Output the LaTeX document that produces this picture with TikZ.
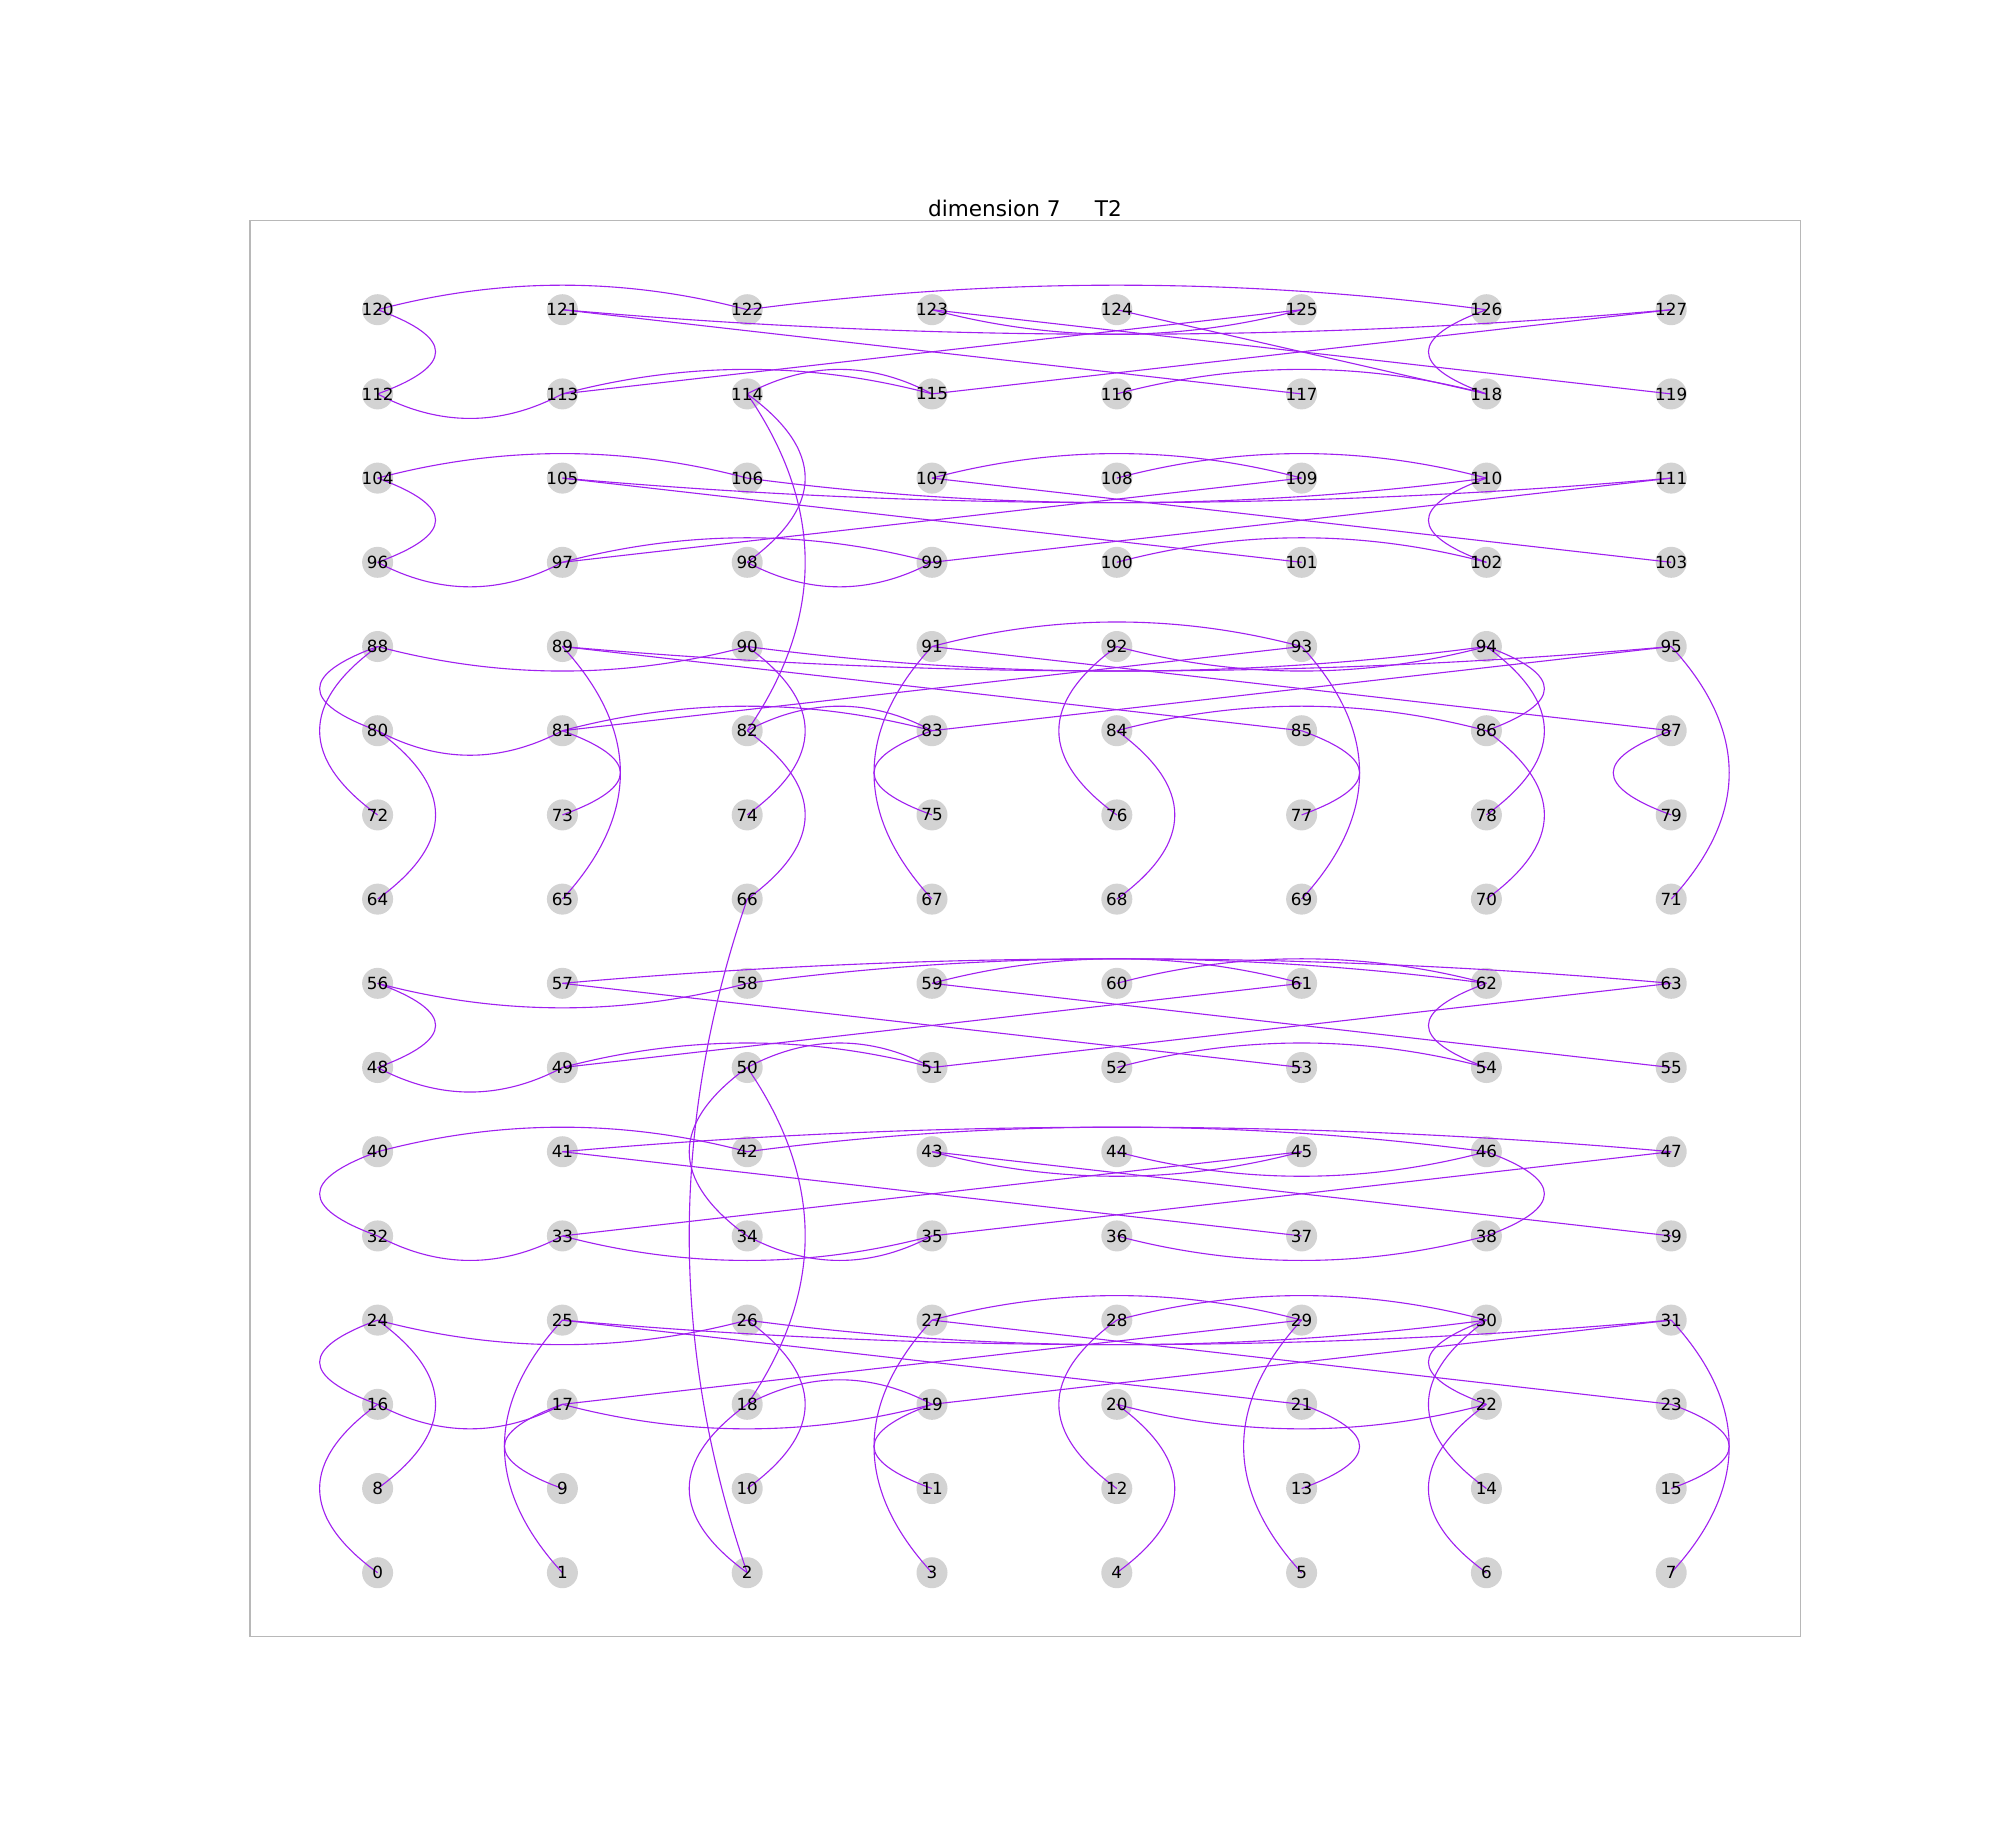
\documentclass[tikz,border=0pt]{standalone}
\usepackage{fontspec}
\newfontfamily\dejavu{DejaVu Sans}
\usetikzlibrary{calc}
\definecolor{edgec}{HTML}{A020F0}
\definecolor{nodec}{HTML}{D3D3D3}
\tikzset{
  nd/.style={circle, fill=nodec, draw=none, minimum size=7.874mm, inner sep=0pt},
  lbl/.style={font=\dejavu\fontsize{12.1}{14}\selectfont, inner sep=0pt, text=black},
  lnk/.style={draw=edgec, line width=0.8pt},
  frame/.style={draw=black!28, line width=0.75pt},
  ttl/.style={font=\dejavu\fontsize{15.6}{18}\selectfont, inner sep=0pt, anchor=base}
}
% straight edge
\newcommand\edgeS[2]{\draw[lnk] (n#1.center) -- (n#2.center);}
% same-row edge, sign +1 bulges down, -1 bulges up
\newcommand\edgeH[3]{\draw[lnk] (n#1.center) .. controls ($(n#1.center)!0.3333!(n#2.center)+(0,#3*32.7)$) and ($(n#1.center)!0.6667!(n#2.center)+(0,#3*32.7)$) .. (n#2.center);}
% same-column edge, sign +1 bulges right, -1 bulges left
\newcommand\edgeV[3]{\draw[lnk] (n#1.center) .. controls ($(n#1.center)!0.3333!(n#2.center)+(#3*77.3,0)$) and ($(n#1.center)!0.6667!(n#2.center)+(#3*77.3,0)$) .. (n#2.center);}
\begin{document}
\begin{tikzpicture}[x=0.254mm, y=-0.254mm]
\useasboundingbox (0,0) rectangle (2000,1840);
\fill[white] (0,0) rectangle (2000,1840);
\draw[frame] (250,220.7) rectangle (1800,1636.5);
\node[ttl] (title) at (1025,216.7) {dimension 7\ \ \ \ \ T2};
% nodes
\foreach \i in {0,...,127} {
  \pgfmathtruncatemacro\cc{mod(\i,8)}
  \pgfmathtruncatemacro\rr{div(\i,8)}
  \node[nd] (n\i) at ({377.6+184.8*\cc},{1572.7-84.2*\rr}) {};
}
% leaves rows 0-1
\edgeV{0}{16}{-1}\edgeV{1}{25}{-1}\edgeV{2}{18}{-1}\edgeV{3}{27}{-1}
\edgeV{4}{20}{1}\edgeV{5}{29}{-1}\edgeV{6}{22}{-1}\edgeV{7}{31}{1}
\edgeV{8}{24}{1}\edgeV{9}{17}{-1}\edgeV{10}{26}{1}\edgeV{11}{19}{-1}
\edgeV{12}{28}{-1}\edgeV{13}{21}{1}\edgeV{14}{30}{-1}\edgeV{15}{23}{1}
% leaves rows 8-9
\edgeV{64}{80}{1}\edgeV{65}{89}{1}\edgeV{66}{82}{1}\edgeV{67}{91}{-1}
\edgeV{68}{84}{1}\edgeV{69}{93}{1}\edgeV{70}{86}{1}\edgeV{71}{95}{1}
\edgeV{72}{88}{-1}\edgeV{73}{81}{1}\edgeV{74}{90}{1}\edgeV{75}{83}{-1}
\edgeV{76}{92}{-1}\edgeV{77}{85}{1}\edgeV{78}{94}{1}\edgeV{79}{87}{-1}
% tree rows 2-3
\edgeH{16}{17}{1}\edgeH{18}{19}{-1}\edgeV{16}{24}{-1}\edgeH{17}{19}{1}
\edgeH{24}{26}{1}\edgeH{20}{22}{1}\edgeH{28}{30}{-1}\edgeH{27}{29}{-1}
\edgeH{26}{30}{1}\edgeV{22}{30}{-1}\edgeH{25}{31}{1}
\edgeS{17}{29}\edgeS{25}{21}\edgeS{27}{23}\edgeS{19}{31}
% tree rows 4-5
\edgeH{32}{33}{1}\edgeH{34}{35}{1}\edgeV{32}{40}{-1}\edgeH{33}{35}{1}
\edgeH{40}{42}{-1}\edgeH{36}{38}{1}\edgeH{44}{46}{1}\edgeH{43}{45}{1}
\edgeH{42}{46}{-1}\edgeV{38}{46}{1}\edgeH{41}{47}{-1}
\edgeS{33}{45}\edgeS{41}{37}\edgeS{43}{39}\edgeS{35}{47}
% tree rows 6-7
\edgeH{48}{49}{1}\edgeH{50}{51}{-1}\edgeV{48}{56}{1}\edgeH{49}{51}{-1}
\edgeH{56}{58}{1}\edgeH{52}{54}{-1}\edgeH{60}{62}{-1}\edgeH{59}{61}{-1}
\edgeH{58}{62}{-1}\edgeV{54}{62}{-1}\edgeH{57}{63}{-1}
\edgeS{49}{61}\edgeS{57}{53}\edgeS{59}{55}\edgeS{51}{63}
% tree rows 10-11
\edgeH{80}{81}{1}\edgeH{82}{83}{-1}\edgeV{80}{88}{-1}\edgeH{81}{83}{-1}
\edgeH{88}{90}{1}\edgeH{84}{86}{-1}\edgeH{92}{94}{1}\edgeH{91}{93}{-1}
\edgeH{90}{94}{1}\edgeV{86}{94}{1}\edgeH{89}{95}{1}
\edgeS{81}{93}\edgeS{89}{85}\edgeS{91}{87}\edgeS{83}{95}
% tree rows 12-13
\edgeH{96}{97}{1}\edgeH{98}{99}{1}\edgeV{96}{104}{1}\edgeH{97}{99}{-1}
\edgeH{104}{106}{-1}\edgeH{100}{102}{-1}\edgeH{108}{110}{-1}\edgeH{107}{109}{-1}
\edgeH{106}{110}{1}\edgeV{102}{110}{-1}\edgeH{105}{111}{1}
\edgeS{97}{109}\edgeS{105}{101}\edgeS{107}{103}\edgeS{99}{111}
% tree rows 14-15
\edgeH{112}{113}{1}\edgeH{114}{115}{-1}\edgeV{112}{120}{1}\edgeH{113}{115}{-1}
\edgeH{120}{122}{-1}\edgeH{116}{118}{-1}\edgeS{124}{118}\edgeH{123}{125}{1}
\edgeH{122}{126}{-1}\edgeV{118}{126}{-1}\edgeH{121}{127}{1}
\edgeS{113}{125}\edgeS{121}{117}\edgeS{123}{119}\edgeS{115}{127}
% connecting edges
\edgeV{2}{66}{-1}\edgeV{18}{50}{1}\edgeV{50}{34}{-1}\edgeV{82}{114}{1}\edgeV{98}{114}{1}
% labels
\foreach \i in {0,...,127} {
  \node[lbl] (l\i) at (n\i.center) {\i};
}
\end{tikzpicture}
\end{document}
